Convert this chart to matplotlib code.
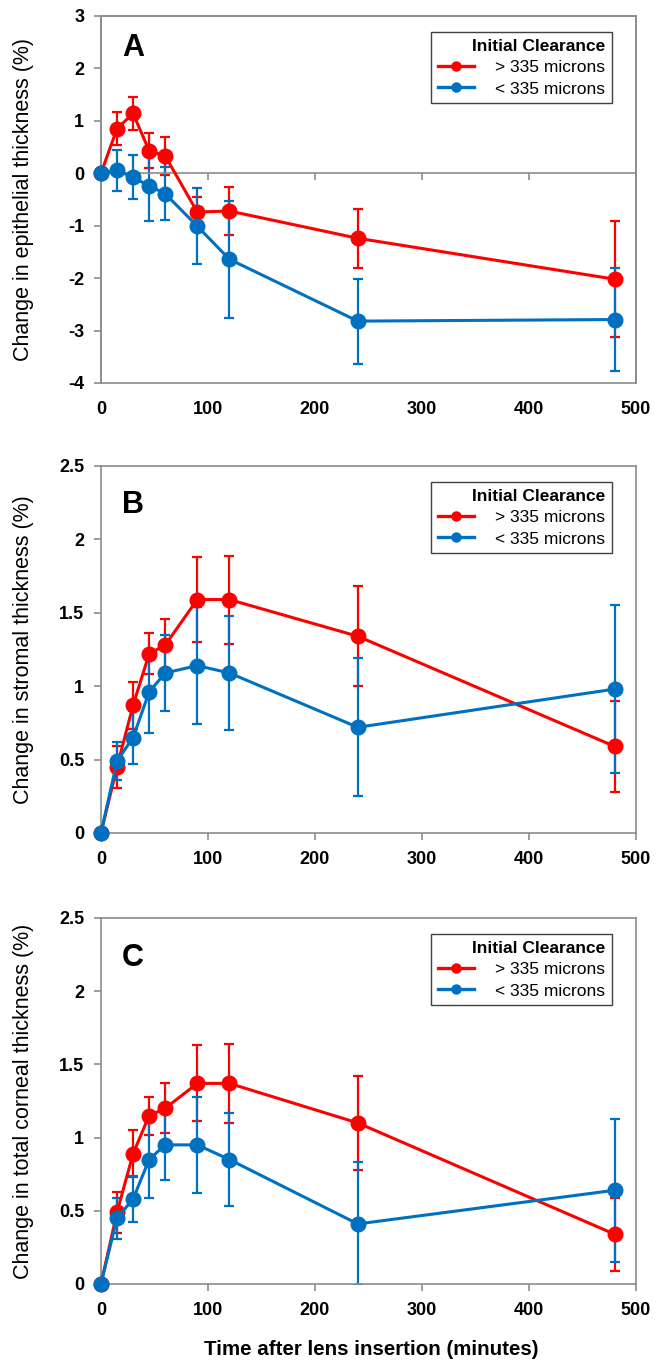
import matplotlib
matplotlib.use('Agg')
import matplotlib.pyplot as plt
from matplotlib.lines import Line2D
from matplotlib.patches import Rectangle
from matplotlib.ticker import FuncFormatter

plt.rcParams['font.family'] = ['Liberation Sans', 'DejaVu Sans']

# Time points (minutes after lens insertion)
time = [0, 15, 30, 45, 60, 90, 120, 240, 480]

# A: epithelial thickness change (%)
epi_high = [0, 0.85, 1.14, 0.43, 0.33, -0.74, -0.72, -1.24, -2.02]
epi_high_err = [0, 0.32, 0.32, 0.33, 0.36, 0.28, 0.46, 0.56, 1.11]
epi_low = [0, 0.06, -0.08, -0.24, -0.39, -1.01, -1.64, -2.82, -2.79]
epi_low_err = [0, 0.39, 0.42, 0.67, 0.50, 0.72, 1.12, 0.81, 0.98]

# B: stromal thickness change (%)
stroma_high = [0, 0.45, 0.87, 1.22, 1.28, 1.59, 1.59, 1.34, 0.59]
stroma_high_err = [0, 0.145, 0.16, 0.14, 0.18, 0.29, 0.30, 0.34, 0.31]
stroma_low = [0, 0.49, 0.65, 0.96, 1.09, 1.14, 1.09, 0.72, 0.98]
stroma_low_err = [0, 0.13, 0.18, 0.28, 0.26, 0.40, 0.39, 0.47, 0.57]

# C: total corneal thickness change (%)
cornea_high = [0, 0.49, 0.89, 1.15, 1.20, 1.37, 1.37, 1.10, 0.34]
cornea_high_err = [0, 0.14, 0.16, 0.13, 0.17, 0.26, 0.27, 0.32, 0.25]
cornea_low = [0, 0.45, 0.58, 0.85, 0.95, 0.95, 0.85, 0.41, 0.64]
cornea_low_err = [0, 0.14, 0.155, 0.26, 0.24, 0.33, 0.32, 0.42, 0.49]

series_labels = ['> 335 microns', '< 335 microns']
legend_title = 'Initial Clearance'
panel_letters = ['A', 'B', 'C']
ylabels = ['Change in epithelial thickness (%)',
           'Change in stromal thickness (%)',
           'Change in total corneal thickness (%)']
ylims = [(-4, 3), (0, 2.5), (0, 2.5)]
yticks = [[-4, -3, -2, -1, 0, 1, 2, 3],
          [0, 0.5, 1, 1.5, 2, 2.5],
          [0, 0.5, 1, 1.5, 2, 2.5]]
xticks = [0, 100, 200, 300, 400, 500]
xlabel = 'Time after lens insertion (minutes)'

RED = '#ff0000'
BLUE = '#0070c0'
GRAY = '#8c8c8c'

panels = [
    (epi_high, epi_high_err, epi_low, epi_low_err),
    (stroma_high, stroma_high_err, stroma_low, stroma_low_err),
    (cornea_high, cornea_high_err, cornea_low, cornea_low_err),
]

fig = plt.figure(figsize=(6.57, 13.62), dpi=100)

# axes boxes in figure fractions (left, bottom, width, height)
boxes = [
    (0.1537, 0.7188, 0.8143, 0.2695),
    (0.1537, 0.3884, 0.8143, 0.2695),
    (0.1537, 0.0573, 0.8143, 0.2687),
]
letter_y = [0.913, 0.894, 0.891]

for i, (hi, hi_err, lo, lo_err) in enumerate(panels):
    ax = fig.add_axes(boxes[i])

    # error bars first, then lines with markers on top
    for vals, errs, col in [(hi, hi_err, RED), (lo, lo_err, BLUE)]:
        xs = [t for t, e in zip(time, errs) if e > 0]
        ys = [v for v, e in zip(vals, errs) if e > 0]
        es = [e for e in errs if e > 0]
        ax.errorbar(xs, ys, yerr=es, fmt='none', ecolor=col, elinewidth=1.6,
                    capsize=3.5, capthick=1.6, zorder=2)
        ax.plot(time, vals, color=col, lw=2.2, marker='o', markersize=10.5,
                clip_on=False, zorder=3)

    ax.set_xlim(0, 500)
    ax.set_ylim(*ylims[i])
    ax.set_yticks(yticks[i])
    ax.set_xticks(xticks)
    ax.yaxis.set_major_formatter(FuncFormatter(lambda v, p: '%g' % v))

    for s in ax.spines.values():
        s.set_color(GRAY)
        s.set_linewidth(1.2)
    ax.tick_params(axis='both', colors=GRAY, labelcolor='black', width=1.2,
                   length=5, direction='out', labelsize=13)
    ax.tick_params(axis='y', pad=7)
    ax.tick_params(axis='x', pad=8)
    for lab in ax.get_xticklabels() + ax.get_yticklabels():
        lab.set_fontweight('bold')

    if ylims[i][0] < 0:
        # x axis crosses at zero, labels kept at the bottom of the plot area
        ax.spines['bottom'].set_position(('data', 0))
        ax.tick_params(axis='x', labelbottom=False)
        ax.add_patch(Rectangle((0, 0), 1, 1, transform=ax.transAxes, fill=False,
                               edgecolor=GRAY, lw=1.2, clip_on=False, zorder=1))
        sec = ax.secondary_xaxis(0)
        sec.set_xticks(xticks)
        sec.tick_params(length=0, pad=13, labelsize=13)
        sec.spines['bottom'].set_visible(False)
        for lab in sec.get_xticklabels():
            lab.set_fontweight('bold')

    ax.set_ylabel(ylabels[i], fontsize=15.5)
    ax.yaxis.set_label_coords(-0.125, 0.5)

    ax.text(0.06, letter_y[i], panel_letters[i], transform=ax.transAxes,
            fontsize=22, fontweight='bold', ha='center', va='center')

    handles = [Line2D([], [], color=RED, lw=2.4, marker='o', markersize=6.5),
               Line2D([], [], color=BLUE, lw=2.4, marker='o', markersize=6.5)]
    leg = ax.legend(handles, series_labels, title=legend_title, loc='upper right',
                    bbox_to_anchor=(0.955, 0.955), borderaxespad=0, fancybox=False,
                    framealpha=1, edgecolor='#404040', fontsize=12.5,
                    title_fontproperties={'weight': 'bold', 'size': 12.5},
                    alignment='right', handlelength=2.1, handletextpad=1.2,
                    labelspacing=0.35, borderpad=0.38)
    leg.get_frame().set_linewidth(1.0)

fig.text(0.565, 0.0095, xlabel, ha='center', va='center', fontsize=14.8,
         fontweight='bold')

fig.savefig('out.png', dpi=100)
